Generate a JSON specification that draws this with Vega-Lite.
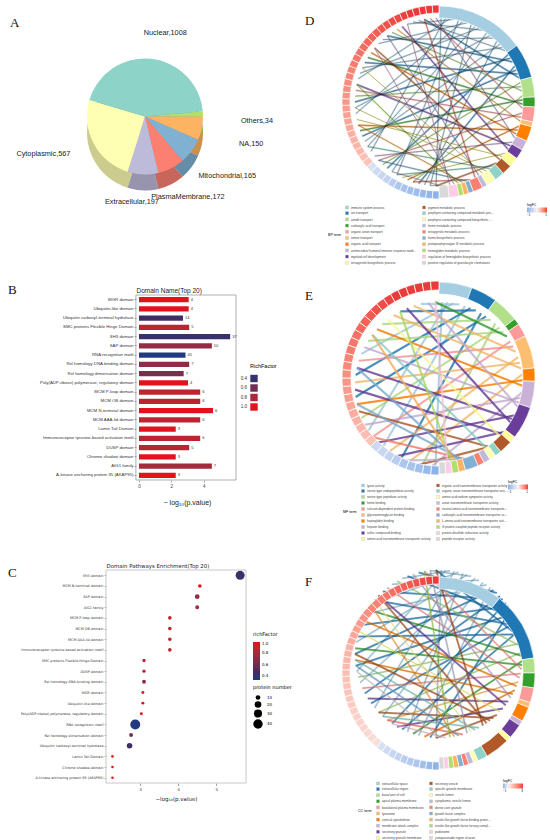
{
"$schema": "https://vega.github.io/schema/vega-lite/v6.json",
"padding": 0,
"background": "white",
"spacing": 0,
"resolve": {"scale": {"color": "independent", "size": "independent"}, "legend": {"color": "independent", "size": "independent"}},
"config": {
  "view": {"stroke": null},
  "font": "Liberation Sans",
  "title": {"font": "Liberation Serif", "fontSize": 13, "fontWeight": "normal", "anchor": "start", "frame": "group", "baseline": "bottom", "color": "#111"},
  "axis": {"labelFont": "Liberation Sans", "titleFont": "Liberation Sans", "grid": false},
  "legend": {"labelFont": "Liberation Sans", "titleFont": "Liberation Sans"}
},
"datasets": {
  "loc": [
    {"loc": "Others", "n": 34, "o": 1, "lab": "Others,34"},
    {"loc": "NA", "n": 150, "o": 2, "lab": "NA,150"},
    {"loc": "Mitochondrial", "n": 165, "o": 3, "lab": "Mitochondrial,165"},
    {"loc": "PlasmaMembrane", "n": 172, "o": 4, "lab": "PlasmaMembrane,172"},
    {"loc": "Extracellular", "n": 197, "o": 5, "lab": "Extracellular,197"},
    {"loc": "Cytoplasmic", "n": 567, "o": 6, "lab": "Cytoplasmic,567"},
    {"loc": "Nuclear", "n": 1008, "o": 7, "lab": "Nuclear,1008"}
  ],
  "dom": [
    {"name": "WGR domain", "p": 3.07, "n": 4, "rf": 1.0},
    {"name": "Ubiquitin-like domain", "p": 3.07, "n": 4, "rf": 1.0},
    {"name": "Ubiquitin carboxyl-terminal hydrolase", "p": 2.72, "n": 14, "rf": 0.45},
    {"name": "SMC proteins Flexible Hinge Domain", "p": 3.1, "n": 5, "rf": 0.85},
    {"name": "SH3 domain", "p": 5.63, "n": 37, "rf": 0.42},
    {"name": "SAP domain", "p": 4.5, "n": 10, "rf": 0.72},
    {"name": "RNA recognition motif", "p": 2.87, "n": 45, "rf": 0.33},
    {"name": "Rel homology DNA-binding domain", "p": 3.1, "n": 7, "rf": 0.7},
    {"name": "Rel homology dimerisation domain", "p": 2.76, "n": 7, "rf": 0.64},
    {"name": "Poly(ADP-ribose) polymerase, regulatory domain", "p": 3.03, "n": 4, "rf": 1.0},
    {"name": "MCM P-loop domain", "p": 3.78, "n": 6, "rf": 0.86},
    {"name": "MCM OB domain", "p": 3.78, "n": 6, "rf": 0.86},
    {"name": "MCM N-terminal domain", "p": 4.57, "n": 6, "rf": 1.0},
    {"name": "MCM AAA-lid domain", "p": 3.78, "n": 6, "rf": 0.86},
    {"name": "Lamin Tail Domain", "p": 2.27, "n": 3, "rf": 1.0},
    {"name": "Immunoreceptor tyrosine-based activation motif", "p": 3.78, "n": 6, "rf": 0.86},
    {"name": "DUSP domain", "p": 3.1, "n": 5, "rf": 0.85},
    {"name": "Chromo shadow domain", "p": 2.27, "n": 3, "rf": 1.0},
    {"name": "AIG1 family", "p": 4.5, "n": 7, "rf": 0.78},
    {"name": "A-kinase anchoring protein 95 (AKAP95)", "p": 2.27, "n": 3, "rf": 1.0}
  ],
  "tD": [
    {"i": 1, "term": "immune system process", "n": 18},
    {"i": 2, "term": "ion transport", "n": 7},
    {"i": 3, "term": "amide transport", "n": 4},
    {"i": 4, "term": "carboxylic acid transport", "n": 2},
    {"i": 5, "term": "organic anion transport", "n": 3},
    {"i": 6, "term": "amine transport", "n": 1},
    {"i": 7, "term": "organic acid transport", "n": 3},
    {"i": 8, "term": "antimicrobial humoral immune response mediated by antimicrobial peptide", "n": 2},
    {"i": 9, "term": "myeloid cell development", "n": 2},
    {"i": 10, "term": "tetrapyrrole biosynthetic process", "n": 2},
    {"i": 11, "term": "pigment metabolic process", "n": 2},
    {"i": 12, "term": "porphyrin-containing compound metabolic process", "n": 2},
    {"i": 13, "term": "porphyrin-containing compound biosynthetic process", "n": 2},
    {"i": 14, "term": "heme metabolic process", "n": 1},
    {"i": 15, "term": "tetrapyrrole metabolic process", "n": 2},
    {"i": 16, "term": "heme biosynthetic process", "n": 1},
    {"i": 17, "term": "protoporphyrinogen IX metabolic process", "n": 1},
    {"i": 18, "term": "hemoglobin metabolic process", "n": 1},
    {"i": 19, "term": "regulation of hemoglobin biosynthetic process", "n": 2},
    {"i": 20, "term": "positive regulation of granulocyte chemotaxis", "n": 2}
  ],
  "tE": [
    {"i": 1, "term": "lyase activity", "n": 5},
    {"i": 2, "term": "serine-type endopeptidase activity", "n": 4},
    {"i": 3, "term": "serine-type peptidase activity", "n": 4},
    {"i": 4, "term": "heme binding", "n": 1},
    {"i": 5, "term": "calcium-dependent protein binding", "n": 2},
    {"i": 6, "term": "glycosaminoglycan binding", "n": 5},
    {"i": 7, "term": "haptoglobin binding", "n": 2},
    {"i": 8, "term": "heparin binding", "n": 4},
    {"i": 9, "term": "sulfur compound binding", "n": 5},
    {"i": 10, "term": "amino acid transmembrane transporter activity", "n": 1},
    {"i": 11, "term": "organic acid transmembrane transporter activity", "n": 2},
    {"i": 12, "term": "organic anion transmembrane transporter activity", "n": 1},
    {"i": 13, "term": "amino acid:sodium symporter activity", "n": 1},
    {"i": 14, "term": "anion transmembrane transporter activity", "n": 1},
    {"i": 15, "term": "neutral amino acid transmembrane transporter activity", "n": 1},
    {"i": 16, "term": "carboxylic acid transmembrane transporter activity", "n": 2},
    {"i": 17, "term": "L-amino acid transmembrane transporter activity", "n": 1},
    {"i": 18, "term": "G protein-coupled peptide receptor activity", "n": 1},
    {"i": 19, "term": "protein-disulfide reductase activity", "n": 1},
    {"i": 20, "term": "peptide receptor activity", "n": 1}
  ],
  "tF": [
    {"i": 1, "term": "extracellular space", "n": 13},
    {"i": 2, "term": "extracellular region", "n": 14},
    {"i": 3, "term": "basal part of cell", "n": 3},
    {"i": 4, "term": "apical plasma membrane", "n": 3},
    {"i": 5, "term": "basolateral plasma membrane", "n": 3},
    {"i": 6, "term": "lysosome", "n": 1},
    {"i": 7, "term": "cortical cytoskeleton", "n": 3},
    {"i": 8, "term": "membrane attack complex", "n": 1},
    {"i": 9, "term": "secretory granule", "n": 3},
    {"i": 10, "term": "secretory granule membrane", "n": 1},
    {"i": 11, "term": "secretory vesicle", "n": 5},
    {"i": 12, "term": "specific granule membrane", "n": 2},
    {"i": 13, "term": "vesicle lumen", "n": 1},
    {"i": 14, "term": "cytoplasmic vesicle lumen", "n": 1},
    {"i": 15, "term": "dense core granule", "n": 1},
    {"i": 16, "term": "growth factor complex", "n": 1},
    {"i": 17, "term": "insulin-like growth factor binding protein complex", "n": 1},
    {"i": 18, "term": "insulin-like growth factor ternary complex", "n": 1},
    {"i": 19, "term": "podosome", "n": 1},
    {"i": 20, "term": "juxtaparanode region of axon", "n": 1}
  ],
  "gD": [
    {"k": 0, "fc": -1.0}, {"k": 1, "fc": -0.95}, {"k": 2, "fc": -0.9}, {"k": 3, "fc": -0.85}, {"k": 4, "fc": -0.8},
    {"k": 5, "fc": -0.75}, {"k": 6, "fc": -0.7}, {"k": 7, "fc": -0.6}, {"k": 8, "fc": -0.5}, {"k": 9, "fc": -0.45},
    {"k": 10, "fc": -0.4}, {"k": 11, "fc": -0.3}, {"k": 12, "fc": 0.3}, {"k": 13, "fc": 0.32}, {"k": 14, "fc": 0.35},
    {"k": 15, "fc": 0.38}, {"k": 16, "fc": 0.4}, {"k": 17, "fc": 0.42}, {"k": 18, "fc": 0.45}, {"k": 19, "fc": 0.47},
    {"k": 20, "fc": 0.5}, {"k": 21, "fc": 0.52}, {"k": 22, "fc": 0.55}, {"k": 23, "fc": 0.57}, {"k": 24, "fc": 0.6},
    {"k": 25, "fc": 0.62}, {"k": 26, "fc": 0.65}, {"k": 27, "fc": 0.67}, {"k": 28, "fc": 0.7}, {"k": 29, "fc": 0.72},
    {"k": 30, "fc": 0.75}, {"k": 31, "fc": 0.78}, {"k": 32, "fc": 0.8}, {"k": 33, "fc": 0.82}, {"k": 34, "fc": 0.85},
    {"k": 35, "fc": 0.88}, {"k": 36, "fc": 0.9}, {"k": 37, "fc": 0.93}, {"k": 38, "fc": 0.95}, {"k": 39, "fc": 0.98},
    {"k": 40, "fc": 1.0}, {"k": 41, "fc": 1.0}, {"k": 42, "fc": 1.0}, {"k": 43, "fc": 1.0}, {"k": 44, "fc": 1.0}
  ],
  "gE": [
    {"k": 0, "fc": -1.0}, {"k": 1, "fc": -0.9}, {"k": 2, "fc": -0.8}, {"k": 3, "fc": -0.75}, {"k": 4, "fc": -0.7},
    {"k": 5, "fc": -0.6}, {"k": 6, "fc": -0.5}, {"k": 7, "fc": -0.45}, {"k": 8, "fc": -0.4}, {"k": 9, "fc": 0.3},
    {"k": 10, "fc": 0.33}, {"k": 11, "fc": 0.36}, {"k": 12, "fc": 0.4}, {"k": 13, "fc": 0.43}, {"k": 14, "fc": 0.46},
    {"k": 15, "fc": 0.5}, {"k": 16, "fc": 0.53}, {"k": 17, "fc": 0.56}, {"k": 18, "fc": 0.6}, {"k": 19, "fc": 0.63},
    {"k": 20, "fc": 0.66}, {"k": 21, "fc": 0.7}, {"k": 22, "fc": 0.73}, {"k": 23, "fc": 0.76}, {"k": 24, "fc": 0.8},
    {"k": 25, "fc": 0.83}, {"k": 26, "fc": 0.86}, {"k": 27, "fc": 0.9}, {"k": 28, "fc": 0.93}, {"k": 29, "fc": 0.96},
    {"k": 30, "fc": 1.0}, {"k": 31, "fc": 1.0}, {"k": 32, "fc": 1.0}, {"k": 33, "fc": 1.0}, {"k": 34, "fc": 1.0},
    {"k": 35, "fc": 1.0}
  ],
  "gF": [
    {"k": 0, "fc": -1.0}, {"k": 1, "fc": -0.9}, {"k": 2, "fc": -0.8}, {"k": 3, "fc": -0.7}, {"k": 4, "fc": -0.65},
    {"k": 5, "fc": -0.6}, {"k": 6, "fc": -0.5}, {"k": 7, "fc": -0.45}, {"k": 8, "fc": -0.4}, {"k": 9, "fc": -0.3},
    {"k": 10, "fc": 0.4}, {"k": 11, "fc": 0.45}, {"k": 12, "fc": 0.5}, {"k": 13, "fc": 0.55}, {"k": 14, "fc": 0.6},
    {"k": 15, "fc": 0.65}, {"k": 16, "fc": 0.7}, {"k": 17, "fc": 0.75}, {"k": 18, "fc": 0.8}, {"k": 19, "fc": 0.85},
    {"k": 20, "fc": 0.9}, {"k": 21, "fc": 0.95}, {"k": 22, "fc": 1.0}, {"k": 23, "fc": 1.05}, {"k": 24, "fc": 1.1},
    {"k": 25, "fc": 1.15}, {"k": 26, "fc": 1.2}, {"k": 27, "fc": 1.3}, {"k": 28, "fc": 1.4}, {"k": 29, "fc": 1.5},
    {"k": 30, "fc": 1.6}, {"k": 31, "fc": 1.7}, {"k": 32, "fc": 1.8}, {"k": 33, "fc": 1.9}, {"k": 34, "fc": 2.0},
    {"k": 35, "fc": 2.1}, {"k": 36, "fc": 2.2}, {"k": 37, "fc": 2.3}, {"k": 38, "fc": 2.4}, {"k": 39, "fc": 2.5},
    {"k": 40, "fc": 2.6}, {"k": 41, "fc": 2.7}, {"k": 42, "fc": 2.8}, {"k": 43, "fc": 2.9}, {"k": 44, "fc": 3.0}
  ],
  "chD": [
    {"i": 1, "g": 182, "t": 1.5}, {"i": 1, "g": 234, "t": 4.5}, {"i": 1, "g": 286, "t": 7.5}, {"i": 1, "g": 338, "t": 10.5},
    {"i": 1, "g": 210, "t": 13.5}, {"i": 1, "g": 262, "t": 16.5}, {"i": 1, "g": 314, "t": 19.5}, {"i": 1, "g": 186, "t": 22.5},
    {"i": 1, "g": 238, "t": 25.5}, {"i": 1, "g": 290, "t": 28.5}, {"i": 1, "g": 342, "t": 31.5}, {"i": 1, "g": 214, "t": 34.5},
    {"i": 1, "g": 266, "t": 37.5}, {"i": 1, "g": 318, "t": 40.5}, {"i": 1, "g": 190, "t": 43.5}, {"i": 1, "g": 242, "t": 46.5},
    {"i": 1, "g": 294, "t": 49.5}, {"i": 1, "g": 346, "t": 52.5}, {"i": 2, "g": 218, "t": 55.5}, {"i": 2, "g": 270, "t": 58.5},
    {"i": 2, "g": 322, "t": 61.5}, {"i": 2, "g": 194, "t": 64.5}, {"i": 2, "g": 246, "t": 67.5}, {"i": 2, "g": 298, "t": 70.5},
    {"i": 2, "g": 350, "t": 73.5}, {"i": 3, "g": 222, "t": 76.5}, {"i": 3, "g": 274, "t": 79.5}, {"i": 3, "g": 326, "t": 82.5},
    {"i": 3, "g": 198, "t": 85.5}, {"i": 4, "g": 250, "t": 88.5}, {"i": 4, "g": 302, "t": 91.5}, {"i": 5, "g": 354, "t": 94.5},
    {"i": 5, "g": 226, "t": 97.5}, {"i": 5, "g": 278, "t": 100.5}, {"i": 6, "g": 330, "t": 103.5}, {"i": 7, "g": 202, "t": 106.5},
    {"i": 7, "g": 254, "t": 109.5}, {"i": 7, "g": 306, "t": 112.5}, {"i": 8, "g": 358, "t": 115.5}, {"i": 8, "g": 230, "t": 118.5},
    {"i": 9, "g": 282, "t": 121.5}, {"i": 9, "g": 334, "t": 124.5}, {"i": 10, "g": 206, "t": 127.5}, {"i": 10, "g": 258, "t": 130.5},
    {"i": 11, "g": 310, "t": 133.5}, {"i": 11, "g": 182, "t": 136.5}, {"i": 12, "g": 210, "t": 139.5}, {"i": 12, "g": 238, "t": 142.5},
    {"i": 13, "g": 266, "t": 145.5}, {"i": 13, "g": 294, "t": 148.5}, {"i": 14, "g": 322, "t": 151.5}, {"i": 15, "g": 350, "t": 154.5},
    {"i": 15, "g": 198, "t": 157.5}, {"i": 16, "g": 226, "t": 160.5}, {"i": 17, "g": 254, "t": 163.5}, {"i": 18, "g": 282, "t": 166.5},
    {"i": 19, "g": 310, "t": 169.5}, {"i": 19, "g": 338, "t": 172.5}, {"i": 20, "g": 186, "t": 175.5}, {"i": 20, "g": 214, "t": 178.5}
  ],
  "chE": [
    {"i": 1, "g": 182.5, "t": 2}, {"i": 1, "g": 237.5, "t": 6}, {"i": 1, "g": 292.5, "t": 10}, {"i": 1, "g": 347.5, "t": 14},
    {"i": 1, "g": 222.5, "t": 18}, {"i": 2, "g": 277.5, "t": 22}, {"i": 2, "g": 332.5, "t": 26}, {"i": 2, "g": 207.5, "t": 30},
    {"i": 2, "g": 262.5, "t": 34}, {"i": 3, "g": 317.5, "t": 38}, {"i": 3, "g": 192.5, "t": 42}, {"i": 3, "g": 247.5, "t": 46},
    {"i": 3, "g": 302.5, "t": 50}, {"i": 4, "g": 357.5, "t": 54}, {"i": 5, "g": 232.5, "t": 58}, {"i": 5, "g": 287.5, "t": 62},
    {"i": 6, "g": 342.5, "t": 66}, {"i": 6, "g": 217.5, "t": 70}, {"i": 6, "g": 272.5, "t": 74}, {"i": 6, "g": 327.5, "t": 78},
    {"i": 6, "g": 202.5, "t": 82}, {"i": 7, "g": 257.5, "t": 86}, {"i": 7, "g": 312.5, "t": 90}, {"i": 8, "g": 187.5, "t": 94},
    {"i": 8, "g": 242.5, "t": 98}, {"i": 8, "g": 297.5, "t": 102}, {"i": 8, "g": 352.5, "t": 106}, {"i": 9, "g": 227.5, "t": 110},
    {"i": 9, "g": 282.5, "t": 114}, {"i": 9, "g": 337.5, "t": 118}, {"i": 9, "g": 212.5, "t": 122}, {"i": 9, "g": 267.5, "t": 126},
    {"i": 10, "g": 322.5, "t": 130}, {"i": 11, "g": 197.5, "t": 134}, {"i": 11, "g": 252.5, "t": 138}, {"i": 12, "g": 307.5, "t": 142},
    {"i": 13, "g": 182.5, "t": 146}, {"i": 14, "g": 207.5, "t": 150}, {"i": 15, "g": 232.5, "t": 154}, {"i": 16, "g": 257.5, "t": 158},
    {"i": 16, "g": 282.5, "t": 162}, {"i": 17, "g": 307.5, "t": 166}, {"i": 18, "g": 332.5, "t": 170}, {"i": 19, "g": 357.5, "t": 174},
    {"i": 20, "g": 202.5, "t": 178}
  ],
  "chF": [
    {"i": 1, "g": 182, "t": 1.5}, {"i": 1, "g": 258, "t": 4.5}, {"i": 1, "g": 334, "t": 7.5}, {"i": 1, "g": 230, "t": 10.5},
    {"i": 1, "g": 306, "t": 13.5}, {"i": 1, "g": 202, "t": 16.5}, {"i": 1, "g": 278, "t": 19.5}, {"i": 1, "g": 354, "t": 22.5},
    {"i": 1, "g": 250, "t": 25.5}, {"i": 1, "g": 326, "t": 28.5}, {"i": 1, "g": 222, "t": 31.5}, {"i": 1, "g": 298, "t": 34.5},
    {"i": 1, "g": 194, "t": 37.5}, {"i": 2, "g": 270, "t": 40.5}, {"i": 2, "g": 346, "t": 43.5}, {"i": 2, "g": 242, "t": 46.5},
    {"i": 2, "g": 318, "t": 49.5}, {"i": 2, "g": 214, "t": 52.5}, {"i": 2, "g": 290, "t": 55.5}, {"i": 2, "g": 186, "t": 58.5},
    {"i": 2, "g": 262, "t": 61.5}, {"i": 2, "g": 338, "t": 64.5}, {"i": 2, "g": 234, "t": 67.5}, {"i": 2, "g": 310, "t": 70.5},
    {"i": 2, "g": 206, "t": 73.5}, {"i": 2, "g": 282, "t": 76.5}, {"i": 2, "g": 358, "t": 79.5}, {"i": 3, "g": 254, "t": 82.5},
    {"i": 3, "g": 330, "t": 85.5}, {"i": 3, "g": 226, "t": 88.5}, {"i": 4, "g": 302, "t": 91.5}, {"i": 4, "g": 198, "t": 94.5},
    {"i": 4, "g": 274, "t": 97.5}, {"i": 5, "g": 350, "t": 100.5}, {"i": 5, "g": 246, "t": 103.5}, {"i": 5, "g": 322, "t": 106.5},
    {"i": 6, "g": 218, "t": 109.5}, {"i": 7, "g": 294, "t": 112.5}, {"i": 7, "g": 190, "t": 115.5}, {"i": 7, "g": 266, "t": 118.5},
    {"i": 8, "g": 342, "t": 121.5}, {"i": 9, "g": 238, "t": 124.5}, {"i": 9, "g": 314, "t": 127.5}, {"i": 9, "g": 210, "t": 130.5},
    {"i": 10, "g": 286, "t": 133.5}, {"i": 11, "g": 182, "t": 136.5}, {"i": 11, "g": 226, "t": 139.5}, {"i": 11, "g": 270, "t": 142.5},
    {"i": 11, "g": 314, "t": 145.5}, {"i": 11, "g": 358, "t": 148.5}, {"i": 12, "g": 222, "t": 151.5}, {"i": 12, "g": 266, "t": 154.5},
    {"i": 13, "g": 310, "t": 157.5}, {"i": 14, "g": 354, "t": 160.5}, {"i": 15, "g": 218, "t": 163.5}, {"i": 16, "g": 262, "t": 166.5},
    {"i": 17, "g": 306, "t": 169.5}, {"i": 18, "g": 350, "t": 172.5}, {"i": 19, "g": 214, "t": 175.5}, {"i": 20, "g": 258, "t": 178.5}
  ]
},
"hconcat": [
  {
    "bounds": "flush",
    "spacing": 90,
    "resolve": {"scale": {"color": "independent", "size": "independent"}, "legend": {"color": "independent", "size": "independent"}},
    "vconcat": [
      {
        "width": 300, "height": 205,
        "title": {"text": "A", "offset": -30, "dx": 10},
        "data": {"name": "loc"},
        "encoding": {
          "theta": {"field": "n", "type": "quantitative", "stack": true, "scale": {"range": [1.48, 7.763]}},
          "order": {"field": "o", "type": "quantitative"},
          "color": {"field": "loc", "type": "nominal", "legend": null,
            "scale": {"domain": ["Nuclear", "Cytoplasmic", "Extracellular", "PlasmaMembrane", "Mitochondrial", "NA", "Others"],
                      "range": ["#8dd3c7", "#ffffb3", "#bebada", "#fb8072", "#80b1d3", "#fdb462", "#b3de69"]}}
        },
        "layer": [
          {"mark": {"type": "arc", "radius": 58, "xOffset": -5, "yOffset": 30}},
          {"mark": {"type": "arc", "radius": 58, "xOffset": -5, "yOffset": 30}, "encoding": {"color": {"value": "#000"}, "opacity": {"value": 0.2}}},
          {"mark": {"type": "arc", "radius": 58, "xOffset": -5, "yOffset": 14}},
          {"mark": {"type": "text", "radius": 84, "xOffset": -5, "yOffset": 14, "dx": 12, "fontSize": 7.3, "align": "center"},
           "encoding": {"text": {"field": "lab"}, "color": {"value": "#1a1a1a"}, "opacity": {"condition": {"test": {"field": "loc", "oneOf": ["Nuclear"]}, "value": 1}, "value": 0}}},
          {"mark": {"type": "text", "radius": 92, "xOffset": -5, "yOffset": 14, "dx": 4, "dy": 9, "fontSize": 7.3, "align": "left"},
           "encoding": {"text": {"field": "lab"}, "color": {"value": "#1a1a1a"}, "opacity": {"condition": {"test": {"field": "loc", "oneOf": ["Others", "NA"]}, "value": 1}, "value": 0}}},
          {"mark": {"type": "text", "radius": 84, "xOffset": -5, "yOffset": 14, "dx": -14, "dy": 9, "fontSize": 7.3, "align": "left"},
           "encoding": {"text": {"field": "lab"}, "color": {"value": "#1a1a1a"}, "opacity": {"condition": {"test": {"field": "loc", "oneOf": ["Mitochondrial"]}, "value": 1}, "value": 0}}},
          {"mark": {"type": "text", "radius": 86, "xOffset": -5, "yOffset": 14, "dx": 4, "dy": 4, "fontSize": 7.3, "align": "center"},
           "encoding": {"text": {"field": "lab"}, "color": {"value": "#1a1a1a"}, "opacity": {"condition": {"test": {"field": "loc", "oneOf": ["PlasmaMembrane"]}, "value": 1}, "value": 0}}},
          {"mark": {"type": "text", "radius": 86, "xOffset": -5, "yOffset": 14, "dx": -10, "fontSize": 7.3, "align": "center"},
           "encoding": {"text": {"field": "lab"}, "color": {"value": "#1a1a1a"}, "opacity": {"condition": {"test": {"field": "loc", "oneOf": ["Extracellular"]}, "value": 1}, "value": 0}}},
          {"mark": {"type": "text", "radius": 80, "xOffset": -5, "yOffset": 14, "dx": -4, "fontSize": 7.3, "align": "right"},
           "encoding": {"text": {"field": "lab"}, "color": {"value": "#1a1a1a"}, "opacity": {"condition": {"test": {"field": "loc", "oneOf": ["Cytoplasmic"]}, "value": 1}, "value": 0}}}
        ]
      },
      {
        "width": 236, "height": 185,
        "title": {"text": "B", "offset": -10, "dx": 8},
        "layer": [
          {
            "data": {"values": [{}]},
            "mark": {"type": "rect", "fill": "transparent", "stroke": "#8c8c8c", "strokeWidth": 0.7},
            "encoding": {
              "x": {"datum": -0.19, "type": "quantitative", "scale": {"domain": [-8.58, 5.99], "nice": false, "zero": false},
                "axis": {"values": [0, 2, 4], "domain": false, "tickSize": 2, "tickColor": "#555", "tickWidth": 0.5, "labelFontSize": 4.5, "labelColor": "#444", "labelPadding": 1,
                         "title": "− log₁₀(p.value)", "titleFontSize": 7, "titleFontWeight": "normal", "titleColor": "#222", "titleX": 187, "titleY": 22, "titleAlign": "center", "titleBaseline": "middle"}},
              "x2": {"datum": 5.99}
            }
          },
          {
            "data": {"name": "dom"},
            "mark": {"type": "bar"},
            "encoding": {
              "y": {"field": "name", "type": "nominal",
                "sort": ["WGR domain", "Ubiquitin-like domain", "Ubiquitin carboxyl-terminal hydrolase", "SMC proteins Flexible Hinge Domain", "SH3 domain", "SAP domain", "RNA recognition motif", "Rel homology DNA-binding domain", "Rel homology dimerisation domain", "Poly(ADP-ribose) polymerase, regulatory domain", "MCM P-loop domain", "MCM OB domain", "MCM N-terminal domain", "MCM AAA-lid domain", "Lamin Tail Domain", "Immunoreceptor tyrosine-based activation motif", "DUSP domain", "Chromo shadow domain", "AIG1 family", "A-kinase anchoring protein 95 (AKAP95)"],
                "scale": {"paddingInner": 0.42, "paddingOuter": 0.21},
                "axis": {"title": "Domain Name(Top 20)", "titleAngle": 0, "titleAlign": "left", "titleBaseline": "bottom", "titleX": 0, "titleY": -2, "titleFontSize": 6.5, "titleFontWeight": "normal", "titleColor": "#222",
                         "offset": -136, "labelFontSize": 4.3, "labelColor": "#333", "labelPadding": 1, "labelLimit": 200, "tickSize": 2, "tickColor": "#555", "tickWidth": 0.5, "domain": false}},
              "x": {"field": "p", "type": "quantitative", "scale": {"domain": [-8.58, 5.99], "nice": false, "zero": false},
                "axis": {"values": [0, 2, 4], "domain": false, "tickSize": 2, "tickColor": "#555", "tickWidth": 0.5, "labelFontSize": 4.5, "labelColor": "#444", "labelPadding": 1,
                         "title": "− log₁₀(p.value)", "titleFontSize": 7, "titleFontWeight": "normal", "titleColor": "#222", "titleX": 187, "titleY": 22, "titleAlign": "center", "titleBaseline": "middle"}},
              "x2": {"datum": 0},
              "color": {"field": "rf", "type": "quantitative",
                "scale": {"domain": [0.33, 0.46, 1.0], "range": ["#223a80", "#402c61", "#e3121d"], "interpolate": "lab"},
                "legend": {"type": "symbol", "values": [0.4, 0.6, 0.8, 1.0], "format": ".1f", "title": "RichFactor", "orient": "none", "legendX": 250, "legendY": 69,
                           "symbolType": "square", "symbolSize": 55, "symbolStrokeWidth": 0, "labelFontSize": 4.5, "labelColor": "#333", "titleFontSize": 5.5, "titleFontWeight": "normal",
                           "labelAlign": "right", "labelOffset": -11, "rowPadding": 1.5}}
            }
          },
          {
            "data": {"name": "dom"},
            "mark": {"type": "text", "align": "left", "dx": 2, "fontSize": 4, "color": "#333"},
            "encoding": {
              "y": {"field": "name", "type": "nominal",
                "sort": ["WGR domain", "Ubiquitin-like domain", "Ubiquitin carboxyl-terminal hydrolase", "SMC proteins Flexible Hinge Domain", "SH3 domain", "SAP domain", "RNA recognition motif", "Rel homology DNA-binding domain", "Rel homology dimerisation domain", "Poly(ADP-ribose) polymerase, regulatory domain", "MCM P-loop domain", "MCM OB domain", "MCM N-terminal domain", "MCM AAA-lid domain", "Lamin Tail Domain", "Immunoreceptor tyrosine-based activation motif", "DUSP domain", "Chromo shadow domain", "AIG1 family", "A-kinase anchoring protein 95 (AKAP95)"],
                "scale": {"paddingInner": 0.42, "paddingOuter": 0.21},
                "axis": {"title": "Domain Name(Top 20)", "titleAngle": 0, "titleAlign": "left", "titleBaseline": "bottom", "titleX": 0, "titleY": -2, "titleFontSize": 6.5, "titleFontWeight": "normal", "titleColor": "#222",
                         "offset": -136, "labelFontSize": 4.3, "labelColor": "#333", "labelPadding": 1, "labelLimit": 200, "tickSize": 2, "tickColor": "#555", "tickWidth": 0.5, "domain": false}},
              "x": {"field": "p", "type": "quantitative", "scale": {"domain": [-8.58, 5.99], "nice": false, "zero": false}},
              "text": {"field": "n", "type": "quantitative"}
            }
          }
        ]
      },
      {
        "width": 246, "height": 213,
        "title": {"text": "C", "offset": -17, "dx": 8},
        "layer": [
          {
            "data": {"values": [{}]},
            "mark": {"type": "rect", "fill": "transparent", "stroke": "#c8c8c8", "strokeWidth": 1},
            "encoding": {
              "x": {"datum": 2.1, "type": "quantitative", "scale": {"domain": [-0.689, 5.784], "nice": false, "zero": false},
                "axis": {"values": [3, 4, 5], "domain": false, "tickSize": 2.5, "tickColor": "#666", "tickWidth": 0.6, "labelFont": "DejaVu Sans", "labelFontSize": 4.2, "labelColor": "#444", "labelPadding": 1.5,
                         "title": "−log₁₀(p.value)", "titleFont": "DejaVu Sans", "titleFontSize": 5.5, "titleFontWeight": "normal", "titleColor": "#222", "titleX": 176, "titleY": 15, "titleAlign": "center", "titleBaseline": "middle"}},
              "x2": {"datum": 5.784}
            }
          },
          {
            "data": {"name": "dom"},
            "mark": {"type": "circle", "opacity": 1},
            "encoding": {
              "y": {"field": "name", "type": "nominal",
                "sort": ["SH3 domain", "MCM N-terminal domain", "SAP domain", "AIG1 family", "MCM P-loop domain", "MCM OB domain", "MCM AAA-lid domain", "Immunoreceptor tyrosine-based activation motif", "SMC proteins Flexible Hinge Domain", "DUSP domain", "Rel homology DNA-binding domain", "WGR domain", "Ubiquitin-like domain", "Poly(ADP-ribose) polymerase, regulatory domain", "RNA recognition motif", "Rel homology dimerisation domain", "Ubiquitin carboxyl-terminal hydrolase", "Lamin Tail Domain", "Chromo shadow domain", "A-kinase anchoring protein 95 (AKAP95)"],
                "axis": {"title": "Domain Pathways Enrichment(Top 20)", "titleAngle": 0, "titleAlign": "left", "titleBaseline": "bottom", "titleX": 0, "titleY": -2, "titleFont": "DejaVu Sans", "titleFontSize": 5.4, "titleFontWeight": "normal", "titleColor": "#222",
                         "offset": -106, "labelFont": "DejaVu Sans", "labelFontSize": 3.4, "labelColor": "#333", "labelPadding": 1, "labelLimit": 200, "tickSize": 2, "tickColor": "#666", "tickWidth": 0.5, "domain": false}},
              "x": {"field": "p", "type": "quantitative", "scale": {"domain": [-0.689, 5.784], "nice": false, "zero": false},
                "axis": {"values": [3, 4, 5], "domain": false, "tickSize": 2.5, "tickColor": "#666", "tickWidth": 0.6, "labelFont": "DejaVu Sans", "labelFontSize": 4.2, "labelColor": "#444", "labelPadding": 1.5,
                         "title": "−log₁₀(p.value)", "titleFont": "DejaVu Sans", "titleFontSize": 5.5, "titleFontWeight": "normal", "titleColor": "#222", "titleX": 176, "titleY": 15, "titleAlign": "center", "titleBaseline": "middle"}},
              "size": {"field": "n", "type": "quantitative", "scale": {"domain": [0, 45], "range": [0, 99]},
                "legend": {"title": "protein number", "orient": "none", "legendX": 253, "legendY": 115, "values": [10, 20, 30, 40], "symbolFillColor": "#000", "symbolStrokeWidth": 0,
                           "labelFont": "DejaVu Sans", "titleFont": "DejaVu Sans", "labelFontSize": 4, "titleFontSize": 5, "titleFontWeight": "normal", "rowPadding": 1}},
              "color": {"field": "rf", "type": "quantitative",
                "scale": {"domain": [0.33, 0.46, 1.0], "range": ["#223a80", "#402c61", "#e3121d"], "interpolate": "lab"},
                "legend": {"title": "richFactor", "orient": "none", "legendX": 253, "legendY": 62, "direction": "vertical", "gradientLength": 38, "gradientThickness": 7,
                           "values": [0.4, 0.6, 0.8, 1.0], "format": ".1f", "labelFont": "DejaVu Sans", "titleFont": "DejaVu Sans", "labelFontSize": 4, "titleFontSize": 5, "titleFontWeight": "normal"}}
            }
          }
        ]
      }
    ]
  },
  {
    "bounds": "flush",
    "spacing": 80,
    "resolve": {"scale": {"color": "independent"}, "legend": {"color": "independent"}},
    "vconcat": [
      {
        "width": 250, "height": 204,
        "title": {"text": "D", "offset": -28, "dx": 5},
        "projection": {"type": "azimuthalEquidistant", "rotate": [180, -90, 0], "reflectX": true, "scale": 53.5, "translate": [139, 102]},
        "layer": [
          {"data": {"name": "chD"}, "mark": {"type": "rule", "strokeWidth": 2, "opacity": 0.55},
           "encoding": {"longitude": {"field": "g", "type": "quantitative"}, "latitude": {"datum": 0}, "longitude2": {"field": "t"}, "latitude2": {"datum": 0},
             "color": {"field": "i", "type": "ordinal", "legend": null, "scale": {"domain": [1,2,3,4,5,6,7,8,9,10,11,12,13,14,15,16,17,18,19,20], "range": ["#a6cee3","#1f78b4","#b2df8a","#33a02c","#fb9a99","#fdbf6f","#ff7f00","#cab2d6","#6a3d9a","#ffff99","#b15928","#8dd3c7","#ffffb3","#bebada","#fb8072","#80b1d3","#fdb462","#b3de69","#fccde5","#d9d9d9"]}}}},
          {"data": {"name": "chD"}, "mark": {"type": "rule", "strokeWidth": 0.5, "color": "#111", "opacity": 0.65},
           "encoding": {"longitude": {"field": "g", "type": "quantitative"}, "latitude": {"datum": 0}, "longitude2": {"field": "t"}, "latitude2": {"datum": 0}}},
          {"data": {"name": "tD"}, "mark": {"type": "arc", "radius": 96, "radius2": 84, "xOffset": 14, "stroke": "#fff", "strokeWidth": 0.6},
           "encoding": {
             "theta": {"field": "n", "type": "quantitative", "stack": true, "scale": {"range": [0, 3.1416]}},
             "order": {"field": "i", "type": "quantitative"},
             "color": {"field": "term", "type": "nominal", "sort": {"field": "i", "op": "min"},
               "scale": {"range": ["#a6cee3","#1f78b4","#b2df8a","#33a02c","#fb9a99","#fdbf6f","#ff7f00","#cab2d6","#6a3d9a","#ffff99","#b15928","#8dd3c7","#ffffb3","#bebada","#fb8072","#80b1d3","#fdb462","#b3de69","#fccde5","#d9d9d9"]},
               "legend": {"orient": "none", "legendX": 28, "legendY": 205, "columns": 2, "title": "BP term", "titleOrient": "left", "titleAnchor": "middle", "titleFontSize": 3.6, "titleFontWeight": "normal",
                          "labelFontSize": 3.1, "labelLimit": 66, "labelColor": "#444", "symbolType": "square", "symbolSize": 9, "symbolStrokeColor": "#aaa", "symbolStrokeWidth": 0.3, "rowPadding": 0.2, "columnPadding": 4, "labelOffset": 2, "titlePadding": 4}}}},
          {"data": {"name": "gD"}, "mark": {"type": "arc", "radius": 97, "radius2": 89, "xOffset": 14, "stroke": "#fff", "strokeWidth": 0.7},
           "encoding": {
             "theta": {"aggregate": "count", "type": "quantitative", "stack": true, "scale": {"range": [3.1416, 6.2832]}},
             "order": {"field": "k", "type": "quantitative"},
             "detail": {"field": "k"},
             "color": {"field": "fc", "type": "quantitative", "scale": {"domain": [-1, 0, 1], "range": ["#8db3ea", "#f5f5f5", "#eb3a3a"], "clamp": true},
               "legend": {"title": "logFC", "orient": "none", "legendX": 227, "legendY": 203, "direction": "horizontal", "gradientLength": 20, "gradientThickness": 5, "values": [-1, 1],
                          "labelFontSize": 3, "titleFontSize": 3.5, "titleFontWeight": "normal", "titlePadding": 1, "labelOffset": 1}}}}
        ],
        "resolve": {"scale": {"color": "independent", "theta": "independent"}}
      },
      {
        "width": 250, "height": 188,
        "title": {"text": "E", "offset": -24, "dx": 5},
        "projection": {"type": "azimuthalEquidistant", "rotate": [180, -90, 0], "reflectX": true, "scale": 53.5, "translate": [139, 94]},
        "layer": [
          {"data": {"name": "chE"}, "mark": {"type": "rule", "strokeWidth": 2.2, "opacity": 0.8},
           "encoding": {"longitude": {"field": "g", "type": "quantitative"}, "latitude": {"datum": 0}, "longitude2": {"field": "t"}, "latitude2": {"datum": 0},
             "color": {"field": "i", "type": "ordinal", "legend": null, "scale": {"domain": [1,2,3,4,5,6,7,8,9,10,11,12,13,14,15,16,17,18,19,20], "range": ["#a6cee3","#1f78b4","#b2df8a","#33a02c","#fb9a99","#fdbf6f","#ff7f00","#cab2d6","#6a3d9a","#ffff99","#b15928","#8dd3c7","#ffffb3","#bebada","#fb8072","#80b1d3","#fdb462","#b3de69","#fccde5","#d9d9d9"]}}}},
          {"data": {"name": "chE"}, "mark": {"type": "rule", "strokeWidth": 0.4, "color": "#111", "opacity": 0.15},
           "encoding": {"longitude": {"field": "g", "type": "quantitative"}, "latitude": {"datum": 0}, "longitude2": {"field": "t"}, "latitude2": {"datum": 0}}},
          {"data": {"name": "tE"}, "mark": {"type": "arc", "radius": 96, "radius2": 84, "xOffset": 14, "stroke": "#fff", "strokeWidth": 0.6},
           "encoding": {
             "theta": {"field": "n", "type": "quantitative", "stack": true, "scale": {"range": [0, 3.1416]}},
             "order": {"field": "i", "type": "quantitative"},
             "color": {"field": "term", "type": "nominal", "sort": {"field": "i", "op": "min"},
               "scale": {"range": ["#a6cee3","#1f78b4","#b2df8a","#33a02c","#fb9a99","#fdbf6f","#ff7f00","#cab2d6","#6a3d9a","#ffff99","#b15928","#8dd3c7","#ffffb3","#bebada","#fb8072","#80b1d3","#fdb462","#b3de69","#fccde5","#d9d9d9"]},
               "legend": {"orient": "none", "legendX": 43, "legendY": 199, "columns": 2, "title": "MF term", "titleOrient": "left", "titleAnchor": "middle", "titleFontSize": 3.6, "titleFontWeight": "normal",
                          "labelFontSize": 3.1, "labelLimit": 66, "labelColor": "#444", "symbolType": "square", "symbolSize": 9, "symbolStrokeColor": "#aaa", "symbolStrokeWidth": 0.3, "rowPadding": 0, "columnPadding": 4, "labelOffset": 2, "titlePadding": 4}}}},
          {"data": {"name": "gE"}, "mark": {"type": "arc", "radius": 97, "radius2": 88, "xOffset": 14, "stroke": "#fff", "strokeWidth": 0.8},
           "encoding": {
             "theta": {"aggregate": "count", "type": "quantitative", "stack": true, "scale": {"range": [3.1416, 6.2832]}},
             "order": {"field": "k", "type": "quantitative"},
             "detail": {"field": "k"},
             "color": {"field": "fc", "type": "quantitative", "scale": {"domain": [-1, 0, 1], "range": ["#8db3ea", "#f5f5f5", "#eb3a3a"], "clamp": true},
               "legend": {"title": "logFC", "orient": "none", "legendX": 208, "legendY": 196, "direction": "horizontal", "gradientLength": 20, "gradientThickness": 5, "values": [-1, 1],
                          "labelFontSize": 3, "titleFontSize": 3.5, "titleFontWeight": "normal", "titlePadding": 1, "labelOffset": 1}}}}
        ],
        "resolve": {"scale": {"color": "independent", "theta": "independent"}}
      },
      {
        "width": 250, "height": 242,
        "title": {"text": "F", "offset": -37, "dx": 5},
        "projection": {"type": "azimuthalEquidistant", "rotate": [180, -90, 0], "reflectX": true, "scale": 53.5, "translate": [139, 121]},
        "layer": [
          {"data": {"name": "chF"}, "mark": {"type": "rule", "strokeWidth": 2, "opacity": 0.7},
           "encoding": {"longitude": {"field": "g", "type": "quantitative"}, "latitude": {"datum": 0}, "longitude2": {"field": "t"}, "latitude2": {"datum": 0},
             "color": {"field": "i", "type": "ordinal", "legend": null, "scale": {"domain": [1,2,3,4,5,6,7,8,9,10,11,12,13,14,15,16,17,18,19,20], "range": ["#a6cee3","#1f78b4","#b2df8a","#33a02c","#fb9a99","#fdbf6f","#ff7f00","#cab2d6","#6a3d9a","#ffff99","#b15928","#8dd3c7","#ffffb3","#bebada","#fb8072","#80b1d3","#fdb462","#b3de69","#fccde5","#d9d9d9"]}}}},
          {"data": {"name": "chF"}, "mark": {"type": "rule", "strokeWidth": 0.5, "color": "#111", "opacity": 0.35},
           "encoding": {"longitude": {"field": "g", "type": "quantitative"}, "latitude": {"datum": 0}, "longitude2": {"field": "t"}, "latitude2": {"datum": 0}}},
          {"data": {"name": "tF"}, "mark": {"type": "arc", "radius": 96, "radius2": 84, "xOffset": 14, "stroke": "#fff", "strokeWidth": 0.6},
           "encoding": {
             "theta": {"field": "n", "type": "quantitative", "stack": true, "scale": {"range": [0, 3.1416]}},
             "order": {"field": "i", "type": "quantitative"},
             "color": {"field": "term", "type": "nominal", "sort": {"field": "i", "op": "min"},
               "scale": {"range": ["#a6cee3","#1f78b4","#b2df8a","#33a02c","#fb9a99","#fdbf6f","#ff7f00","#cab2d6","#6a3d9a","#ffff99","#b15928","#8dd3c7","#ffffb3","#bebada","#fb8072","#80b1d3","#fdb462","#b3de69","#fccde5","#d9d9d9"]},
               "legend": {"orient": "none", "legendX": 58, "legendY": 229, "columns": 2, "title": "CC term", "titleOrient": "left", "titleAnchor": "middle", "titleFontSize": 3.6, "titleFontWeight": "normal",
                          "labelFontSize": 3.1, "labelLimit": 56, "labelColor": "#444", "symbolType": "square", "symbolSize": 9, "symbolStrokeColor": "#aaa", "symbolStrokeWidth": 0.3, "rowPadding": 0.1, "columnPadding": 4, "labelOffset": 2, "titlePadding": 4}}}},
          {"data": {"name": "gF"}, "mark": {"type": "arc", "radius": 97, "radius2": 89, "xOffset": 14, "stroke": "#fff", "strokeWidth": 0.7},
           "encoding": {
             "theta": {"aggregate": "count", "type": "quantitative", "stack": true, "scale": {"range": [3.1416, 6.2832]}},
             "order": {"field": "k", "type": "quantitative"},
             "detail": {"field": "k"},
             "color": {"field": "fc", "type": "quantitative", "scale": {"domain": [-1, 0, 3], "range": ["#8db3ea", "#f5f5f5", "#eb3a3a"], "clamp": true},
               "legend": {"title": "logFC", "orient": "none", "legendX": 203, "legendY": 227, "direction": "horizontal", "gradientLength": 20, "gradientThickness": 5, "values": [-1, 3],
                          "labelFontSize": 3, "titleFontSize": 3.5, "titleFontWeight": "normal", "titlePadding": 1, "labelOffset": 1}}}}
        ],
        "resolve": {"scale": {"color": "independent", "theta": "independent"}}
      }
    ]
  }
]
}
